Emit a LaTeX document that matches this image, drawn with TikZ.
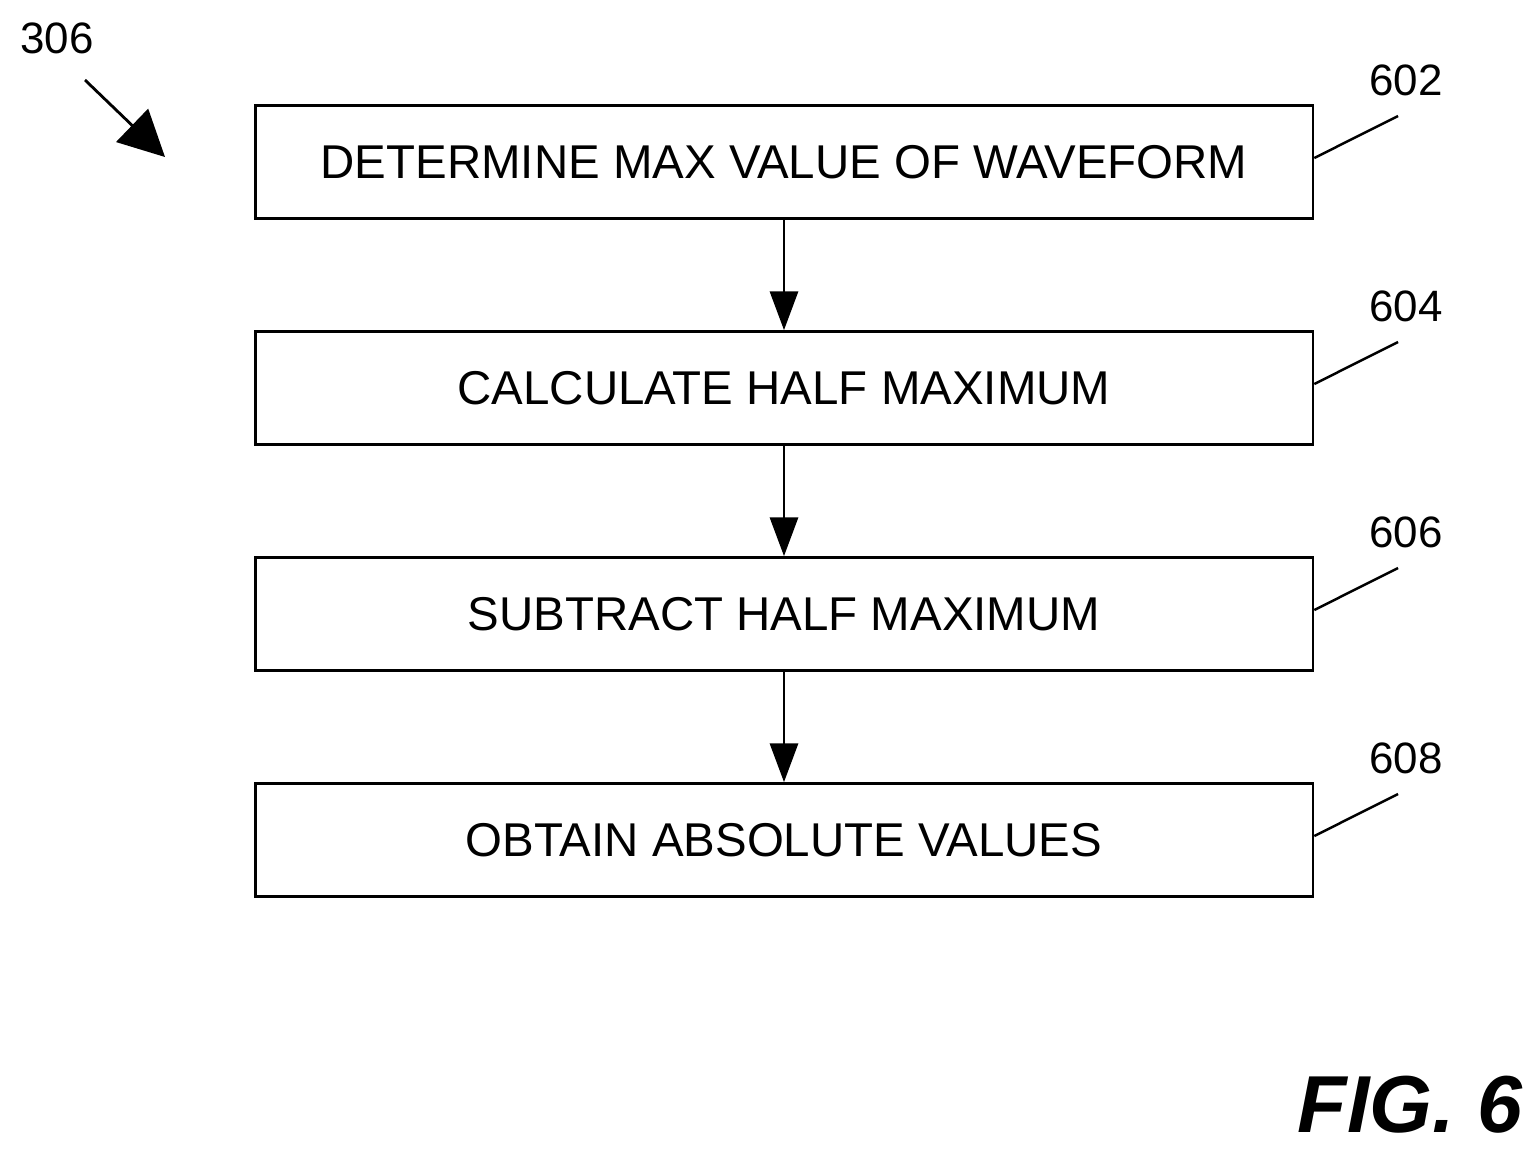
\documentclass[tikz,border=0pt]{standalone}
\usepackage{fontspec}
\setmainfont{Liberation Sans}
\usetikzlibrary{positioning}
\usetikzlibrary{arrows.meta}
\begin{document}
\begin{tikzpicture}[x=0.02cm, y=-0.02cm,
  stepbox/.style={draw, line width=1.6pt, minimum width=21.16cm, minimum height=2.26cm, font=\fontsize{27}{30}\selectfont},
  reflabel/.style={font=\fontsize{25}{28}\selectfont},
  flow/.style={-{Triangle[width=16pt,length=22pt]}, line width=1.4pt}]
  \useasboundingbox (0,0) rectangle (1539,1154);
  % process steps
  \node[stepbox] (s602) at (784,162) {DETERMINE MAX VALUE OF WAVEFORM};
  \node[stepbox] (s604) at (784,388) {CALCULATE HALF MAXIMUM};
  \node[stepbox] (s606) at (784,614) {SUBTRACT HALF MAXIMUM};
  \node[stepbox] (s608) at (784,840) {OBTAIN ABSOLUTE VALUES};
  \draw[flow] (s602) -- (s604);
  \draw[flow] (s604) -- (s606);
  \draw[flow] (s606) -- (s608);
  % reference numerals
  \foreach \n/\y in {602/162, 604/388, 606/614, 608/840} {
    \node[reflabel] (l\n) at (1406,\y-82) {\n};
    \coordinate (e\n) at (1398,\y-46);
    \draw[line width=1.4pt] (s\n.east) ++(0,-4) -- (e\n);
  }
  \node[reflabel] (l306) at (57,38) {306};
  \coordinate (a306) at (85,80);
  \coordinate (b306) at (165,157);
  \draw[-{Triangle[width=26pt,length=26pt]}, line width=1.6pt, fill=gray] (a306) -- (b306);
  \node[font=\fontsize{46}{50}\selectfont\bfseries\itshape] (fig) at (1410,1105) {FIG. 6};
\end{tikzpicture}
\end{document}
